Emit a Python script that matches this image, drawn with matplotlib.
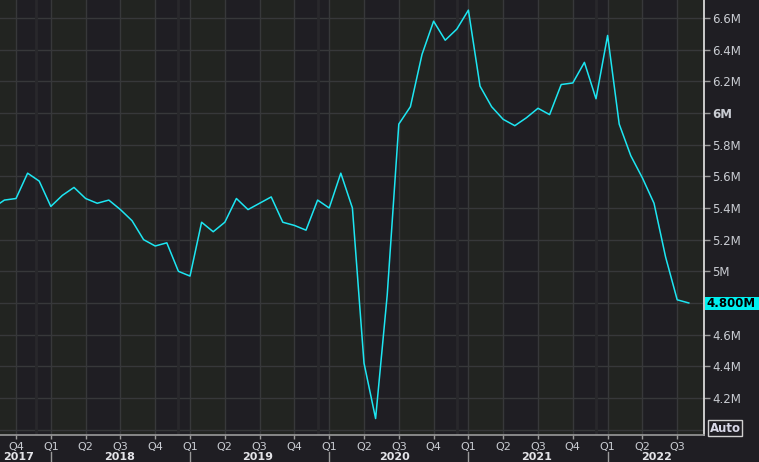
import matplotlib
matplotlib.use('Agg')
import matplotlib.pyplot as plt
from matplotlib.patches import Rectangle
import matplotlib.transforms as mtransforms
import numpy as np

# monthly values (millions), Aug 2017 .. Aug 2022
values = [5.40, 5.45, 5.46, 5.62, 5.57, 5.41, 5.48, 5.53, 5.46, 5.43,
          5.45, 5.39, 5.32, 5.20, 5.16, 5.18, 5.00, 4.97, 5.31, 5.25,
          5.31, 5.46, 5.39, 5.43, 5.47, 5.31, 5.29, 5.26, 5.45, 5.40,
          5.62, 5.40, 4.42, 4.07, 4.85, 5.93, 6.04, 6.37, 6.58, 6.46,
          6.53, 6.65, 6.17, 6.04, 5.96, 5.92, 5.97, 6.03, 5.99, 6.18,
          6.19, 6.32, 6.09, 6.49, 5.93, 5.73, 5.59, 5.43, 5.09, 4.82,
          4.80]
# month index, 0 = Aug 2017
months = np.arange(len(values))

quarter_labels = ['Q4', 'Q1', 'Q2', 'Q3', 'Q4', 'Q1', 'Q2', 'Q3', 'Q4', 'Q1',
                  'Q2', 'Q3', 'Q4', 'Q1', 'Q2', 'Q3', 'Q4', 'Q1', 'Q2', 'Q3']
quarter_pos = [2 + 3 * i for i in range(len(quarter_labels))]
year_labels = ['2017', '2018', '2019', '2020', '2021', '2022']
year_label_pos = [2.26, 10.97, 22.86, 34.67, 46.9, 57.26]
year_start_pos = [5, 17, 29, 41, 53]
marker_lines = [3.7, 16.0, 28.0, 40.0, 52.0]

ytick_vals = [4.2, 4.4, 4.6, 5.0, 5.2, 5.4, 5.6, 5.8, 6.0, 6.2, 6.4, 6.6]
ytick_text = ['4.2M', '4.4M', '4.6M', '5M', '5.2M', '5.4M', '5.6M', '5.8M',
              '6M', '6.2M', '6.4M', '6.6M']
grid_vals = [4.0, 4.2, 4.4, 4.6, 4.8, 5.0, 5.2, 5.4, 5.6, 5.8, 6.0, 6.2,
             6.4, 6.6]
last_label = '4.800M'

bg_dark = '#1f1e23'
bg_green = '#222421'
grid_c = '#37383a'
text_c = '#c9ccd2'
line_c = '#1de6f2'

fig = plt.figure(figsize=(7.59, 4.62), dpi=100, facecolor=bg_dark)
ax = fig.add_axes([0, 27 / 462, 704 / 759, 435 / 462])
ax.set_facecolor(bg_dark)

ax.set_xlim(0.62, 61.31)
ax.set_ylim(3.966, 6.714)

# alternating quarter shading
for start in range(-1, 62, 6):
    ax.axvspan(start, start + 3, color=bg_green, lw=0, zorder=0)

for y in grid_vals:
    ax.axhline(y, color=grid_c, lw=1, zorder=1)
for x in quarter_pos:
    ax.axvline(x, color=grid_c, lw=1, zorder=1)
for x in marker_lines:
    ax.axvline(x, color='#28282b', lw=2, zorder=1)

ax.plot(months, values, color=line_c, lw=1.1, zorder=3)

# spines
for s in ['top', 'left']:
    ax.spines[s].set_visible(False)
ax.spines['right'].set_color('#e8e8e8')
ax.spines['right'].set_linewidth(1.2)
ax.spines['bottom'].set_color('#9a9a9a')
ax.spines['bottom'].set_linewidth(1.2)

# y axis on the right
ax.yaxis.tick_right()
ax.set_yticks(ytick_vals)
ax.set_yticklabels(ytick_text)
ax.tick_params(axis='y', colors='#9a9a9a', labelcolor=text_c, length=4.5,
               width=1, pad=1.5, labelsize=8.5)
for lab in ax.get_yticklabels():
    if lab.get_text() == '6M':
        lab.set_fontweight('bold')

# x axis quarters
ax.set_xticks(quarter_pos)
ax.set_xticklabels(quarter_labels)
ax.tick_params(axis='x', colors='#9a9a9a', labelcolor=text_c, length=3,
               width=1, pad=2, labelsize=8)

# year labels and separators
trans = mtransforms.blended_transform_factory(ax.transData, ax.transAxes)
for x, lab in zip(year_label_pos, year_labels):
    ax.text(x, -17.5 / 435, lab, transform=trans, ha='center', va='top',
            color='#e4e4e8', fontsize=8, fontweight='bold', clip_on=False)
for x in year_start_pos:
    ax.plot([x, x], [-17 / 435, -30 / 435], transform=trans,
            color='#9a9a9a', lw=1, clip_on=False)

# last value box
fig.patches.append(Rectangle((705 / 759, (462 - 310) / 462), 54 / 759,
                             13 / 462, transform=fig.transFigure,
                             facecolor='#00f0f0', edgecolor='none'))
fig.text(706 / 759, (462 - 303.5) / 462, last_label, ha='left', va='center',
         color='black', fontsize=8.5, fontweight='bold')

# Auto box
fig.text(725 / 759, (462 - 428) / 462, 'Auto', ha='center', va='center',
         color='#d8d8e8', fontsize=8.5, fontweight='bold',
         bbox=dict(boxstyle='square,pad=0.12', facecolor=bg_dark,
                   edgecolor='#d0d0d0', lw=1))

fig.savefig('out.png', dpi=100, facecolor=bg_dark)
